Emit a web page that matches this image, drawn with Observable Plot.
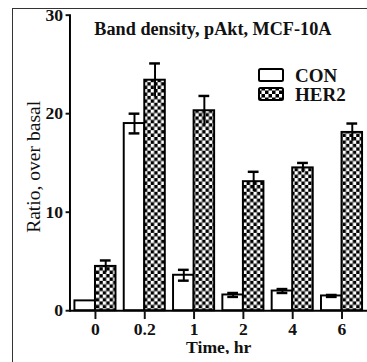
<!DOCTYPE html>
<html><head><meta charset="utf-8">
<style>
html,body{margin:0;padding:0;background:#fff;overflow:hidden;width:367px;height:362px;font-family:'Liberation Serif',serif}
#wrap{position:relative;width:367px;height:362px;overflow:hidden}
#border{position:absolute;left:12px;top:8px;width:420px;height:420px;border-top:1.5px solid #333;border-left:1.5px solid #333;pointer-events:none}
#chart{position:absolute;left:0;top:0}
.lg{position:absolute;left:295px;font-family:'Liberation Serif',serif;font-weight:bold;font-size:19px;line-height:19px;color:#111}
</style>
<script src="https://cdn.jsdelivr.net/npm/d3@7"></script>
<script src="https://cdn.jsdelivr.net/npm/@observablehq/plot@0.6"></script>
</head><body>
<div id="wrap"><div id="chart"></div>
<div id="legend"><span class="lg" id="lg0" style="top:66px"></span><span class="lg" id="lg1" style="top:85px"></span></div>
<div id="border"></div></div>
<script>
const times = ["0", "0.2", "1", "2", "4", "6"];
const groups = ["CON", "HER2"];
const conValues = [1.0, 19.0, 3.6, 1.6, 2.0, 1.5];
const conErrors = [0.0, 1.0, 0.55, 0.2, 0.2, 0.1];
const her2Values = [4.5, 23.4, 20.3, 13.1, 14.5, 18.1];
const her2Errors = [0.6, 1.7, 1.5, 1.0, 0.5, 0.9];
const yTicks = [0, 10, 20, 30];
const titleText = "Band density, pAkt, MCF-10A";
const xLabel = "Time, hr";
const yLabel = "Ratio, over basal";

const con = times.map((t, i) => ({time: t, value: conValues[i], err: conErrors[i]}));
const her2 = times.map((t, i) => ({time: t, value: her2Values[i], err: her2Errors[i]}));

const FONT = "'Liberation Serif', serif";
const W = 375, H = 362, ML = 71, MR = 0, MT = 15, MB = 45;
const PI = 0.167, PO = 0.1;
const step = (W - ML - MR) / (times.length - PI + 2 * PO);
const bw = step * (1 - PI);
const half = bw / 2;
const cap = 11;
const capIn = (half - cap) / 2;

const chart = Plot.plot({
  width: W, height: H,
  marginLeft: ML, marginRight: MR, marginTop: MT, marginBottom: MB,
  style: `font-family: ${FONT}; font-size: 18px; font-weight: bold; color: #111; background: transparent;`,
  x: {domain: times, paddingInner: PI, paddingOuter: PO, round: false, axis: null},
  y: {domain: [0, 30], axis: null},
  marks: [
    Plot.barY(con, {x: "time", y: "value", fill: "white", stroke: "black", strokeWidth: 2, insetRight: half}),
    Plot.barY(her2, {x: "time", y: "value", fill: "url(#checker)", stroke: "black", strokeWidth: 2, insetLeft: half}),
    Plot.ruleX(con.filter(d => d.err > 0), {x: "time", y1: d => d.value - d.err, y2: d => d.value + d.err, dx: -half / 2, stroke: "black", strokeWidth: 2}),
    Plot.ruleX(her2, {x: "time", y1: d => d.value - d.err, y2: d => d.value + d.err, dx: half / 2, stroke: "black", strokeWidth: 2}),
    Plot.tickY(con.filter(d => d.err > 0), {x: "time", y: d => d.value + d.err, insetLeft: capIn, insetRight: half + capIn, stroke: "black", strokeWidth: 2.5}),
    Plot.tickY(con.filter(d => d.err > 0), {x: "time", y: d => d.value - d.err, insetLeft: capIn, insetRight: half + capIn, stroke: "black", strokeWidth: 2.5}),
    Plot.tickY(her2, {x: "time", y: d => d.value + d.err, insetLeft: half + capIn, insetRight: capIn, stroke: "black", strokeWidth: 2.5}),
    Plot.ruleY([0], {stroke: "black", strokeWidth: 2}),
    Plot.frame({anchor: "left", stroke: "black", strokeWidth: 2}),
    Plot.axisY({ticks: yTicks, tickSize: 4, tickPadding: 3, tickFormat: d => String(d), label: null, strokeWidth: 2, fill: "#111", fontSize: 18, fontWeight: "bold", fontFamily: FONT}),
    Plot.axisX({tickSize: 9, tickPadding: 3, label: xLabel, labelAnchor: "center", labelOffset: 43, labelArrow: "none", strokeWidth: 2, fill: "#111", fontSize: 18, fontWeight: "bold", fontFamily: FONT}),
    Plot.text([titleText], {frameAnchor: "top", lineAnchor: "top", dy: 7, dx: -6, fontSize: 18.6, fontWeight: "bold", fill: "#111", fontFamily: FONT}),
    Plot.text([yLabel], {frameAnchor: "left", textAnchor: "middle", lineAnchor: "middle", rotate: -90, dx: -37, dy: 4, fontSize: 20, fontWeight: "normal", fill: "#111", fontFamily: FONT})
  ]
});
chart.style.fontFamily = FONT;

const defs = d3.select(chart).insert("defs", ":first-child");
const pat = defs.append("pattern").attr("id", "checker").attr("patternUnits", "userSpaceOnUse").attr("width", 7).attr("height", 7);
pat.append("rect").attr("width", 7).attr("height", 7).attr("fill", "black");
pat.append("rect").attr("x", 0).attr("y", 0).attr("width", 3.5).attr("height", 3.5).attr("fill", "white");
pat.append("rect").attr("x", 3.5).attr("y", 3.5).attr("width", 3.5).attr("height", 3.5).attr("fill", "white");
document.getElementById("chart").appendChild(chart);

// legend
const legend = document.getElementById("legend");
const fills = {CON: "white", HER2: "url(#checker)"};
groups.forEach((g, i) => {
  const top = 68 + i * 19;
  const sw = document.createElementNS("http://www.w3.org/2000/svg", "svg");
  sw.setAttribute("width", 26); sw.setAttribute("height", 15);
  sw.style.position = "absolute"; sw.style.left = "258px"; sw.style.top = top + "px";
  const r = document.createElementNS("http://www.w3.org/2000/svg", "rect");
  r.setAttribute("x", 1); r.setAttribute("y", 1); r.setAttribute("width", 24); r.setAttribute("height", 12);
  r.setAttribute("rx", 1.5);
  r.setAttribute("fill", fills[g]); r.setAttribute("stroke", "black"); r.setAttribute("stroke-width", 2);
  sw.appendChild(r);
  legend.appendChild(sw);
  document.getElementById("lg" + i).textContent = g;
});
</script>
</body></html>
